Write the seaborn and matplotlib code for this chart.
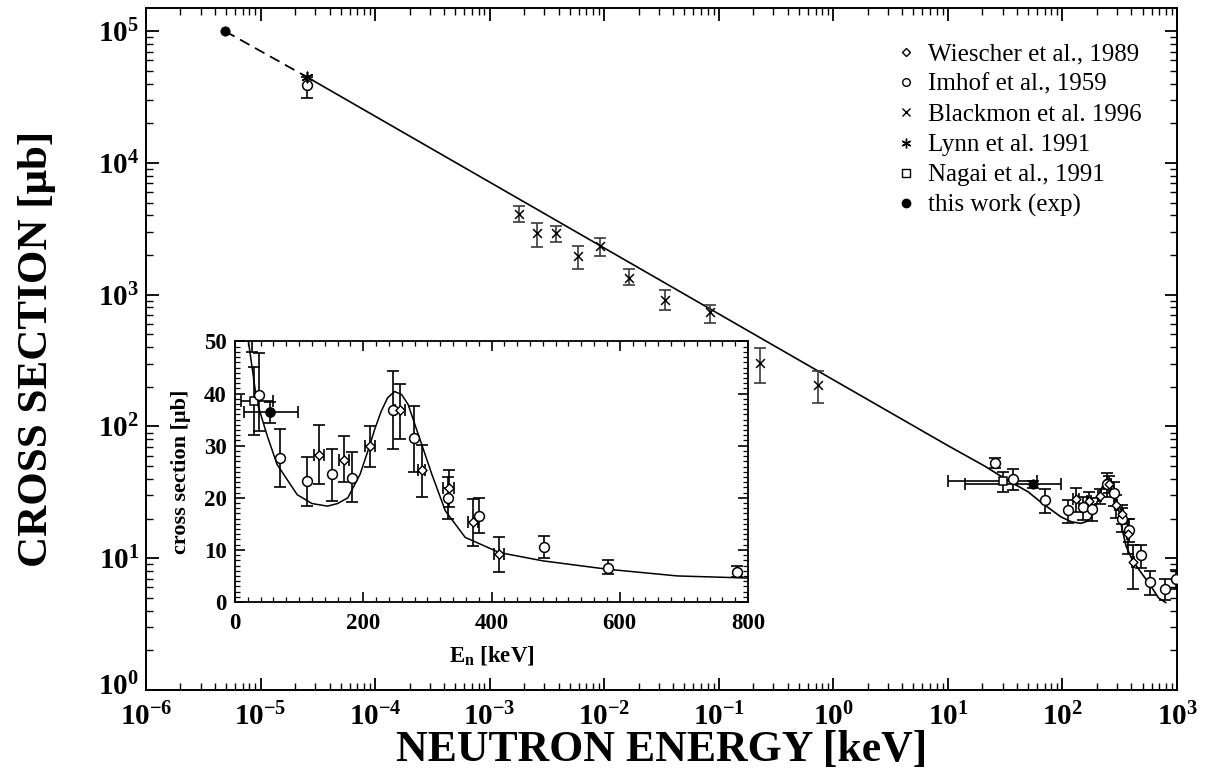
import matplotlib
matplotlib.use("Agg")
import matplotlib.pyplot as plt
import matplotlib.transforms as mtransforms
import seaborn as sns
import pandas as pd
from matplotlib.lines import Line2D
from matplotlib.ticker import LogLocator, NullFormatter, MultipleLocator

# ---------------- data ----------------
wiescher_energy = [131, 170.5, 211, 257, 291, 333, 371, 412]
wiescher_sigma = [28.3, 27.3, 29.9, 36.8, 25.3, 21.8, 15.3, 9.3]
wiescher_err_lo = [5.7, 4.3, 4.0, 5.6, 5.1, 3.5, 4.5, 3.5]
wiescher_err_hi = [5.6, 4.6, 3.9, 5.1, 4.8, 3.5, 4.5, 3.2]
wiescher_xerr = [8, 8, 8, 8, 6, 8, 8, 8]

imhof_energy = [2.53e-5, 26, 36.7, 70.8, 111.7, 150.6, 182, 246.6, 279.7, 332,
                380.3, 482.6, 582, 783, 990]
imhof_sigma = [3.9e4, 53, 39.8, 27.6, 23.2, 24.5, 23.8, 36.8, 31.4, 19.9,
               16.5, 10.6, 6.6, 5.8, 7.0]
imhof_err_lo = [8e3, 5, 6.9, 5.5, 4.8, 5.1, 4.6, 7.5, 6.4, 4.0, 3.3, 2.2, 1.3, 1.0, 1.2]
imhof_err_hi = [6e3, 5, 8.0, 5.7, 4.6, 4.9, 5.0, 7.5, 6.3, 4.0, 3.4, 2.1, 1.4, 1.2, 1.2]

blackmon_energy = [1.79e-3, 2.59e-3, 3.83e-3, 5.9e-3, 9.14e-3, 1.65e-2, 3.42e-2,
                   8.34e-2, 0.231, 0.736]
blackmon_sigma = [4090, 2920, 2950, 1960, 2340, 1350, 910, 741, 304, 206]
blackmon_err_lo = [550, 610, 430, 400, 380, 170, 146, 136, 90, 56]
blackmon_err_hi = [660, 560, 380, 380, 360, 210, 170, 93, 91, 57]

lynn_energy = [2.53e-5]
lynn_sigma = [4.5e4]

nagai_energy = [30]
nagai_sigma = [38.6]
nagai_err = [6.6]
nagai_xerr_lo = [20]
nagai_xerr_hi = [30]

thiswork_energy = [4.9e-6, 55]
thiswork_sigma = [1.0e5, 36.4]
thiswork_xerr_lo = [0, 41]
thiswork_xerr_hi = [0, 43]
thiswork_err = [0, 2.0]

extrap_energy = [4.9e-6, 2.53e-5]
extrap_sigma = [1.0e5, 4.5e4]

fit_energy = [2.53e-5, 1.0, 10, 21, 34, 50, 65.6, 97, 120, 144, 160, 176, 195, 207,
              218, 228, 238, 249, 260, 270, 286, 307, 328, 359, 412, 480, 580, 690, 800]
fit_sigma = [4.5e4, 226, 71.6, 50, 38.5, 32, 26.4, 20.6, 18.9, 18.4, 18.9, 20.0, 24.5,
             28.9, 33.2, 36.6, 39.2, 40.4, 39.8, 37.9, 32.1, 24.5, 17.5, 12.4, 9.5,
             7.9, 6.3, 5.0, 4.6]

legend_labels = ["Wiescher et al., 1989", "Imhof et al., 1959", "Blackmon et al. 1996",
                 "Lynn et al. 1991", "Nagai et al., 1991", "this work (exp)"]

main_xticks = [-6, -5, -4, -3, -2, -1, 0, 1, 2, 3]
main_yticks = [0, 1, 2, 3, 4, 5]

# ---------------- style ----------------
sns.set_theme(style="ticks")
plt.rcParams["font.family"] = ["Liberation Serif", "DejaVu Serif"]
plt.rcParams["mathtext.fontset"] = "custom"
plt.rcParams["mathtext.rm"] = "Liberation Serif:bold"
plt.rcParams["mathtext.it"] = "Liberation Serif:bold"
plt.rcParams["mathtext.bf"] = "Liberation Serif:bold"
plt.rcParams["axes.linewidth"] = 1.4
plt.rcParams["axes.edgecolor"] = "black"

W, H = 1207, 769
fig = plt.figure(figsize=(W / 100, H / 100), dpi=100)
fig.patch.set_facecolor("white")

L, R, T, B = 146, 1177, 8, 690
ax = fig.add_axes([L / W, 1 - B / H, (R - L) / W, (B - T) / H])
ax.set_facecolor("white")
ax.set_xscale("log")
ax.set_yscale("log")


def draw_data(a, s_circle, s_diam, s_x, s_ast, s_sq, s_fill, cap):
    ekw = dict(fmt="none", elinewidth=1.2, capsize=cap, capthick=1.2, zorder=3)
    a.errorbar(blackmon_energy, blackmon_sigma, yerr=[blackmon_err_lo, blackmon_err_hi],
               ecolor="#3a3a3a", **ekw)
    a.errorbar(imhof_energy, imhof_sigma, yerr=[imhof_err_lo, imhof_err_hi],
               ecolor="black", **ekw)
    a.errorbar(wiescher_energy, wiescher_sigma, yerr=[wiescher_err_lo, wiescher_err_hi],
               xerr=wiescher_xerr, ecolor="black", **ekw)
    a.errorbar(nagai_energy, nagai_sigma, yerr=nagai_err,
               xerr=[nagai_xerr_lo, nagai_xerr_hi], ecolor="black", **ekw)
    a.errorbar(thiswork_energy[1:], thiswork_sigma[1:], yerr=thiswork_err[1:],
               xerr=[thiswork_xerr_lo[1:], thiswork_xerr_hi[1:]], ecolor="black", **ekw)
    sns.scatterplot(x=blackmon_energy, y=blackmon_sigma, ax=a, marker="x", s=s_x,
                    color="black", linewidth=1.1, zorder=4)
    sns.scatterplot(x=nagai_energy, y=nagai_sigma, ax=a, marker="s", s=s_sq,
                    facecolor="white", edgecolor="black", linewidth=1.1, zorder=4)
    sns.scatterplot(x=imhof_energy, y=imhof_sigma, ax=a, marker="o", s=s_circle,
                    facecolor="white", edgecolor="black", linewidth=1.1, zorder=4)
    sns.scatterplot(x=wiescher_energy, y=wiescher_sigma, ax=a, marker="D", s=s_diam,
                    facecolor="white", edgecolor="black", linewidth=1.0, zorder=5)
    sns.scatterplot(x=lynn_energy, y=lynn_sigma, ax=a, marker=(6, 2, 0), s=s_ast,
                    color="black", linewidth=1.2, zorder=5)
    sns.scatterplot(x=thiswork_energy, y=thiswork_sigma, ax=a, marker="o", s=s_fill,
                    color="black", edgecolor="black", zorder=6)


# main plot lines
sns.lineplot(x=fit_energy, y=fit_sigma, ax=ax, color="black", linewidth=1.2,
             sort=False, estimator=None, zorder=2)
sns.lineplot(x=extrap_energy, y=extrap_sigma, ax=ax, color="black", linewidth=1.3,
             sort=False, estimator=None, zorder=2)
ax.lines[-1].set_dashes([6, 3.5])
draw_data(ax, 50, 20, 40, 55, 40, 45, 4.2)

ax.set_xlim(1e-6, 1e3)
ax.set_ylim(1, 1.5e5)
ax.set_xticks([10.0 ** k for k in main_xticks])
ax.set_xticklabels([r"$\mathbf{10^{%d}}$" % k for k in main_xticks])
ax.set_yticks([10.0 ** k for k in main_yticks])
ax.set_yticklabels([r"$\mathbf{10^{%d}}$" % k for k in main_yticks])
for axis in (ax.xaxis, ax.yaxis):
    axis.set_minor_locator(LogLocator(base=10, subs=range(2, 10), numticks=20))
    axis.set_minor_formatter(NullFormatter())
ax.tick_params(which="both", direction="in", top=True, right=True, colors="black")
ax.tick_params(which="major", length=9, width=1.3, labelsize=21, pad=5)
ax.tick_params(axis="x", which="major", pad=9)
ax.tick_params(which="minor", length=5, width=1.0)
# lift the lowest y label slightly so it sits clear of the 10^-6 label (as in the reference)
lowest = ax.get_yticklabels()[0]
lowest.set_transform(lowest.get_transform() +
                     mtransforms.ScaledTranslation(0, 4 / 72, fig.dpi_scale_trans))
ax.set_xlabel("NEUTRON ENERGY [keV]", fontsize=31.5, fontweight="bold", color="black")
ax.set_ylabel("CROSS SECTION [μb]", fontsize=31, fontweight="bold", color="black")
ax.xaxis.set_label_coords(0.5, -0.058)
ax.yaxis.set_label_coords(-0.087, 0.5)
for sp in ax.spines.values():
    sp.set_visible(True)
    sp.set_linewidth(1.4)
    sp.set_color("black")

# legend
handles = [
    Line2D([], [], ls="none", marker="D", ms=4, mfc="white", mec="black", mew=1.0),
    Line2D([], [], ls="none", marker="o", ms=5.5, mfc="white", mec="black", mew=1.0),
    Line2D([], [], ls="none", marker="x", ms=5.5, color="black", mew=1.0),
    Line2D([], [], ls="none", marker=(6, 2, 0), ms=7, color="black", mew=1.0),
    Line2D([], [], ls="none", marker="s", ms=6, mfc="white", mec="black", mew=1.0),
    Line2D([], [], ls="none", marker="o", ms=6, mfc="black", mec="black"),
]
leg = ax.legend(handles, legend_labels, loc="upper left",
                bbox_to_anchor=((893 - L) / (R - L), (B - 43) / (B - T)),
                frameon=False, fontsize=18, handlelength=1.0, handletextpad=0.4,
                labelspacing=0.31, borderpad=0, borderaxespad=0)
for t in leg.get_texts():
    t.set_color("black")

# ---------------- inset ----------------
iL, iR, iT, iB = 235, 748, 341.5, 602
axin = fig.add_axes([iL / W, 1 - iB / H, (iR - iL) / W, (iB - iT) / H])
axin.set_facecolor("white")
sns.lineplot(x=fit_energy, y=fit_sigma, ax=axin, color="black", linewidth=1.1,
             sort=False, estimator=None, zorder=2)
draw_data(axin, 50, 22, 40, 55, 36, 50, 4.2)
axin.set_xlim(0, 800)
axin.set_ylim(0, 50)
axin.xaxis.set_major_locator(MultipleLocator(200))
axin.xaxis.set_minor_locator(MultipleLocator(20))
axin.yaxis.set_major_locator(MultipleLocator(10))
axin.yaxis.set_minor_locator(MultipleLocator(1))
axin.tick_params(which="both", direction="in", top=True, right=True, colors="black")
axin.tick_params(which="major", length=7, width=1.2, labelsize=16.5)
axin.tick_params(axis="x", which="major", pad=8)
axin.tick_params(axis="y", which="major", pad=6)
axin.tick_params(which="minor", length=3.5, width=0.9)
for lab in axin.get_xticklabels() + axin.get_yticklabels():
    lab.set_fontweight("bold")
axin.set_xlabel(r"E$_{\rm n}$ [keV]", fontsize=16.5, fontweight="bold", color="black",
                labelpad=7)
axin.set_ylabel("cross section [μb]", fontsize=16, fontweight="bold", color="black",
                labelpad=9)
for sp in axin.spines.values():
    sp.set_visible(True)
    sp.set_linewidth(1.3)
    sp.set_color("black")

fig.savefig("out.png", dpi=100, facecolor="white")
